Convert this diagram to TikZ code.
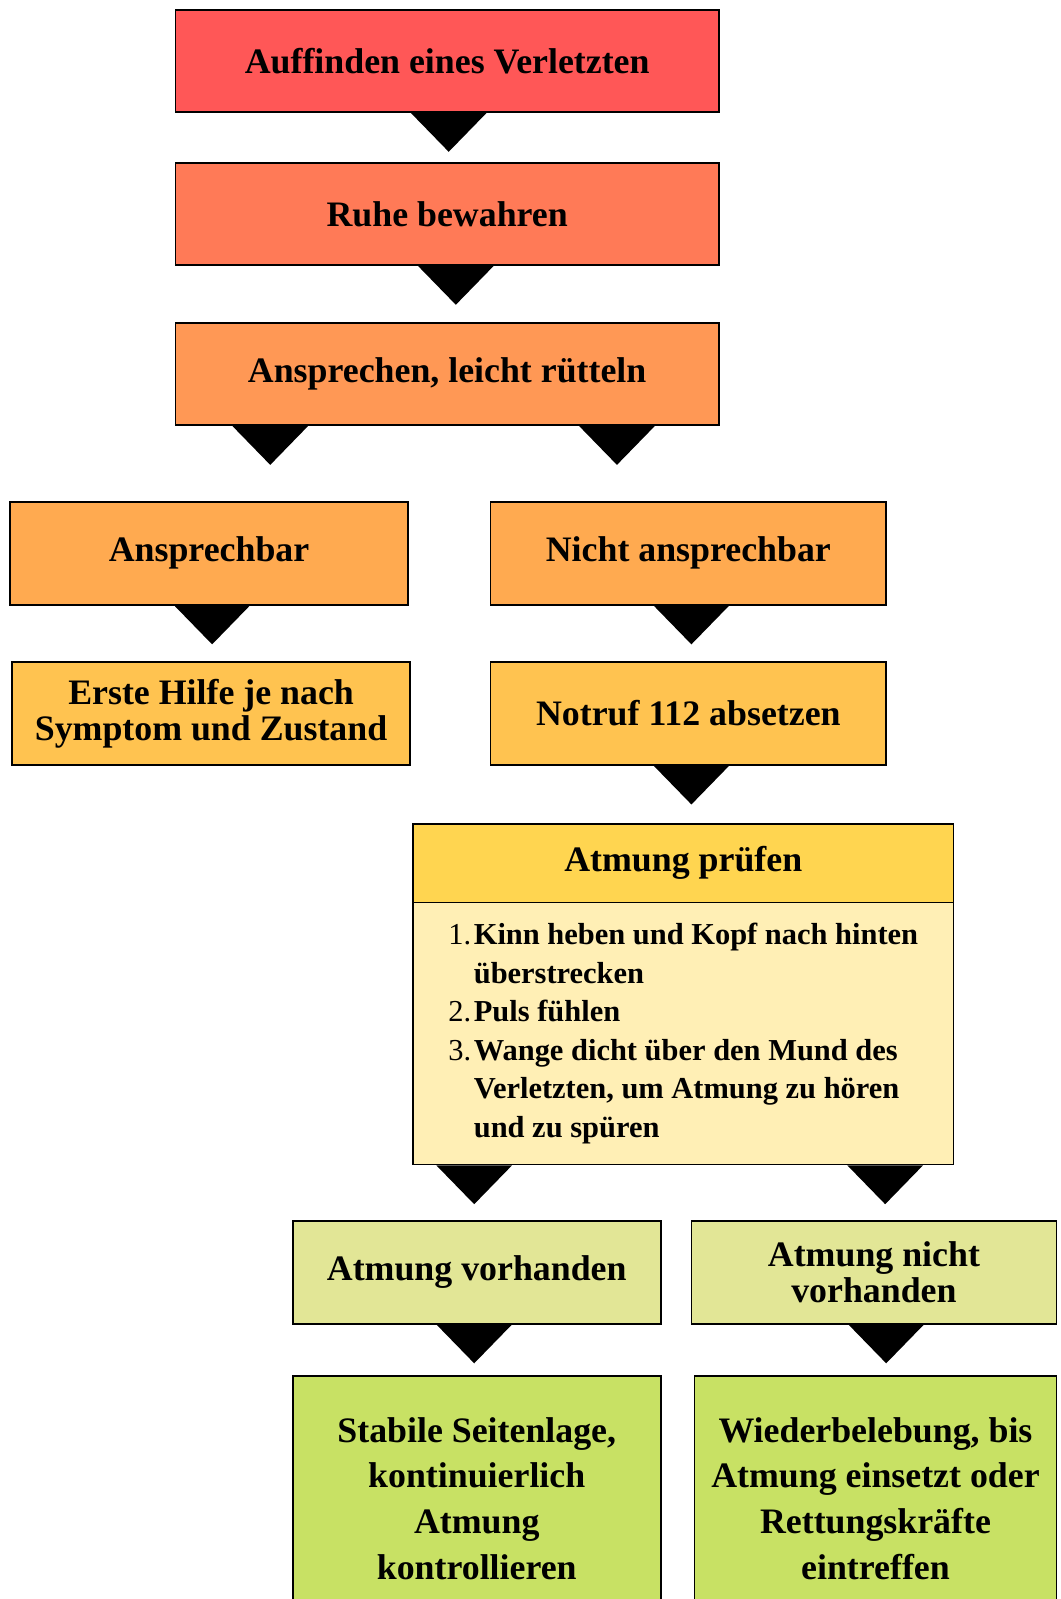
\documentclass[tikz,border=0pt]{standalone}
\usepackage{fontspec}
\setmainfont{Liberation Serif}
\usetikzlibrary{calc}

\begin{document}
\begin{tikzpicture}[x=0.02cm, y=-0.02cm,
  box/.style={draw=black, line width=1pt, inner sep=0pt, align=center,
    font=\bfseries\fontsize{20}{20}\selectfont},
  tri/.style={fill=black}]
  % Define colors
  \definecolor{findfill}{RGB}{255,87,87}
  \definecolor{calmfill}{RGB}{255,122,87}
  \definecolor{talkfill}{RGB}{255,152,85}
  \definecolor{answerfill}{RGB}{255,170,80}
  \definecolor{actionfill}{RGB}{255,195,80}
  \definecolor{checkhead}{RGB}{255,213,80}
  \definecolor{checkbody}{RGB}{255,239,181}
  \definecolor{breathfill}{RGB}{226,230,150}
  \definecolor{finalfill}{RGB}{200,225,100}

  \clip (0,0) rectangle (1040,1568);

  % Main chain
  \node[box, fill=findfill, minimum width=10.66cm, minimum height=2cm] (find) at (438.5,60) {Auffinden eines Verletzten};
  \node[box, fill=calmfill, minimum width=10.66cm, minimum height=2cm] (calm) at (438.5,210) {Ruhe bewahren};
  \node[box, fill=talkfill, minimum width=10.66cm, minimum height=2cm] (talk) at (438.5,367) {Ansprechen, leicht rütteln};

  % Responsive or not
  \node[box, fill=answerfill, minimum width=7.8cm, minimum height=2.02cm] (resp) at (205,542.5) {Ansprechbar};
  \node[box, fill=answerfill, minimum width=7.76cm, minimum height=2.02cm] (noresp) at (675,542.5) {Nicht ansprechbar};
  \node[box, fill=actionfill, minimum width=7.8cm, minimum height=2.02cm] (aid) at (207,699.5) {Erste Hilfe je nach\\Symptom und Zustand};
  \node[box, fill=actionfill, minimum width=7.76cm, minimum height=2.02cm] (call) at (675,699.5) {Notruf 112 absetzen};

  % Breathing check
  \node[box, fill=checkhead, minimum width=10.6cm, minimum height=1.54cm] (check) at (670,846.5) {Atmung prüfen};
  \node[box, fill=checkbody, minimum width=10.6cm, minimum height=5.14cm, align=left,
    font=\bfseries\fontsize{17}{21.5}\selectfont] (steps) at (670,1013.5)
    {\makebox[0.5cm][l]{\mdseries 1.}Kinn heben und Kopf nach hinten\\
     \hspace*{0.5cm}überstrecken\\
     \makebox[0.5cm][l]{\mdseries 2.}Puls fühlen\\
     \makebox[0.5cm][l]{\mdseries 3.}Wange dicht über den Mund des\\
     \hspace*{0.5cm}Verletzten, um Atmung zu hören\\
     \hspace*{0.5cm}und zu spüren};

  % Outcomes
  \node[box, fill=breathfill, minimum width=7.22cm, minimum height=2.02cm] (breath) at (467.5,1247.5) {Atmung vorhanden};
  \node[box, fill=breathfill, minimum width=7.16cm, minimum height=2.02cm] (nobreath) at (857,1247.5) {Atmung nicht\\vorhanden};
  \node[box, fill=finalfill, minimum width=7.22cm, minimum height=4.82cm,
    font=\bfseries\fontsize{20}{25.5}\selectfont] (recovery) at (467.5,1469.5)
    {Stabile Seitenlage,\\kontinuierlich\\Atmung\\kontrollieren};
  \node[box, fill=finalfill, minimum width=7.1cm, minimum height=4.82cm,
    font=\bfseries\fontsize{20}{25.5}\selectfont] (revive) at (858.5,1469.5)
    {Wiederbelebung, bis\\Atmung einsetzt oder\\Rettungskräfte\\eintreffen};

  % Triangle connectors
  \foreach \src/\dst/\xx in {find/calm/440, calm/talk/447, talk/resp/265, talk/noresp/605,
      resp/aid/208, noresp/call/678, call/check/678, steps/breath/465, steps/nobreath/868,
      breath/recovery/465, nobreath/revive/869}
    \fill[tri] ($(\xx,0 |- \src.south)+(-37,0)$) -- ($(\xx,0 |- \src.south)+(37,0)$)
      -- ($(\xx,0 |- \src.south)!0.76cm!(\xx,0 |- \dst.north)$) -- cycle;
\end{tikzpicture}
\end{document}
